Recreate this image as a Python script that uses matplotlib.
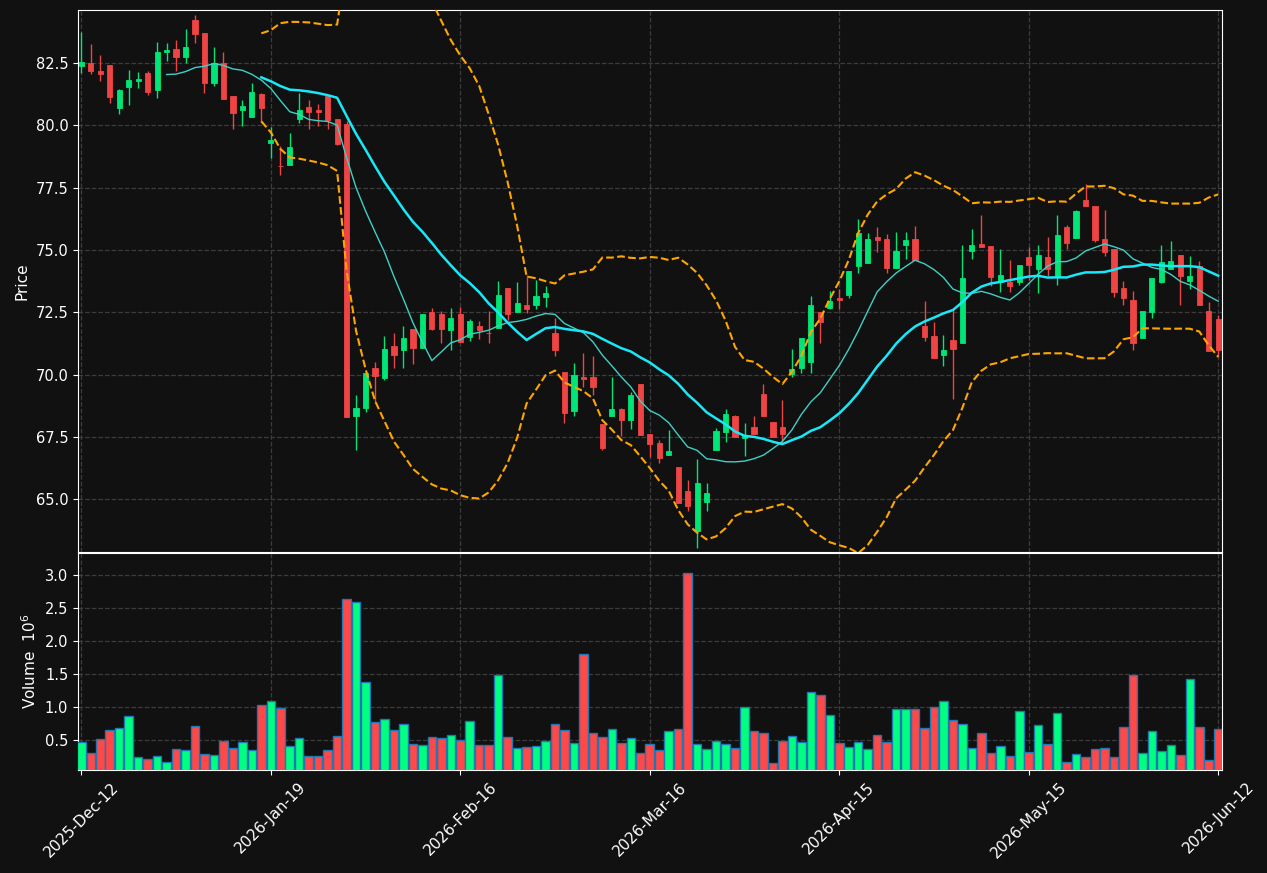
import numpy as np
import pandas as pd
import matplotlib
matplotlib.use('Agg')
import matplotlib.pyplot as plt

# daily OHLC (121 sessions)
opens = [82.40, 82.51, 82.19, 82.43, 80.70, 81.55, 81.79, 82.11, 81.43, 82.95,
         83.07, 82.75, 84.23, 83.71, 81.71, 82.51, 81.19, 80.60, 80.35, 81.26,
         79.28, 78.39, 78.43, 80.24, 80.74, 80.60, 81.20, 80.27, 80.07, 68.36,
         68.67, 70.27, 69.86, 71.16, 70.99, 71.83, 71.08, 72.51, 72.43, 71.78,
         72.43, 71.52, 71.96, 71.69, 71.89, 73.48, 72.50, 72.79, 72.78, 73.13,
         71.68, 70.10, 68.54, 69.92, 69.92, 68.04, 68.36, 68.62, 68.19, 69.64,
         67.63, 67.27, 66.78, 66.30, 65.33, 63.72, 64.90, 66.99, 67.72, 68.36,
         67.48, 67.90, 69.23, 68.11, 67.90, 70.03, 70.29, 70.52, 72.50, 72.68,
         73.06, 73.21, 74.38, 74.50, 75.53, 75.44, 74.30, 75.22, 75.44, 71.96,
         71.55, 70.80, 71.39, 71.29, 74.98, 75.25, 75.17, 73.70, 73.73, 73.70,
         74.72, 74.26, 74.72, 73.98, 75.93, 75.50, 77.01, 76.77, 75.44, 75.05,
         73.48, 72.99, 71.48, 72.53, 73.73, 74.24, 74.79, 73.77, 74.36, 72.54,
         72.24]
highs = [83.74, 83.27, 82.82, 82.43, 81.47, 82.21, 82.14, 82.18, 83.35, 83.29,
         83.42, 83.87, 84.44, 83.71, 83.14, 82.93, 81.19, 81.01, 81.69, 81.29,
         79.93, 79.17, 79.70, 81.30, 81.02, 80.87, 81.20, 80.27, 80.18, 69.17,
         70.07, 70.53, 71.55, 71.68, 71.94, 71.83, 72.43, 72.68, 72.54, 72.68,
         72.71, 72.24, 72.17, 72.54, 73.76, 73.48, 73.72, 74.01, 73.79, 73.55,
         72.26, 70.10, 70.47, 70.86, 70.76, 68.04, 69.92, 68.67, 69.31, 69.64,
         67.63, 67.38, 67.77, 66.30, 65.78, 66.64, 65.64, 67.86, 68.62, 68.40,
         68.06, 68.36, 69.64, 68.11, 68.99, 71.04, 71.47, 73.16, 72.50, 73.35,
         73.44, 74.16, 76.24, 75.68, 75.92, 75.64, 75.71, 75.71, 75.96, 72.95,
         72.10, 71.58, 72.60, 75.19, 75.85, 76.41, 75.17, 75.05, 74.61, 74.40,
         75.12, 75.19, 75.53, 76.39, 76.00, 76.61, 77.67, 76.77, 76.61, 75.05,
         73.76, 73.37, 72.54, 73.87, 75.19, 75.36, 74.79, 74.75, 74.57, 72.93,
         72.40]
lows = [82.10, 82.08, 81.80, 80.88, 80.44, 80.80, 81.52, 81.24, 81.12, 82.60,
        82.17, 82.49, 83.32, 81.29, 81.58, 81.05, 79.85, 79.96, 80.35, 80.14,
        78.68, 78.01, 78.43, 80.10, 79.85, 79.96, 79.86, 79.21, 68.32, 66.99,
        68.50, 68.92, 69.78, 70.28, 70.26, 70.45, 71.08, 71.79, 71.26, 71.01,
        71.33, 71.36, 71.43, 71.29, 71.89, 72.19, 72.50, 72.47, 72.65, 72.71,
        70.76, 68.08, 68.33, 69.52, 69.17, 66.99, 68.36, 67.55, 67.83, 67.59,
        66.69, 66.46, 66.78, 64.87, 64.55, 63.06, 64.52, 66.99, 67.31, 67.52,
        66.76, 67.63, 68.36, 67.49, 67.27, 69.92, 70.07, 70.07, 71.26, 72.65,
        72.65, 73.07, 74.10, 74.50, 74.91, 74.10, 74.30, 74.63, 74.62, 71.36,
        70.69, 70.37, 69.01, 71.29, 74.63, 75.12, 73.56, 73.31, 73.31, 73.59,
        73.80, 73.27, 73.98, 73.59, 75.03, 75.50, 76.77, 75.33, 74.77, 73.10,
        72.78, 71.01, 71.48, 72.26, 73.69, 74.24, 72.78, 73.45, 72.78, 70.97,
        70.73]
closes = [82.56, 82.17, 82.07, 81.16, 81.43, 81.83, 81.87, 81.34, 82.95, 83.03,
          82.75, 83.16, 83.67, 81.72, 82.51, 81.06, 80.48, 80.78, 81.34, 80.70,
          79.42, 78.36, 79.14, 80.62, 80.52, 80.52, 80.21, 79.26, 68.32, 68.67,
          70.07, 69.96, 71.04, 70.80, 71.47, 71.08, 72.43, 71.83, 71.83, 72.28,
          71.33, 72.15, 71.80, 71.66, 73.20, 72.43, 72.88, 72.65, 73.16, 73.28,
          71.01, 68.48, 69.99, 69.81, 69.50, 67.06, 68.62, 68.19, 69.17, 67.59,
          67.23, 66.66, 66.94, 64.87, 64.73, 65.67, 65.24, 67.76, 68.43, 67.52,
          67.54, 67.63, 68.36, 67.52, 67.63, 70.23, 71.47, 72.78, 72.10, 72.96,
          73.01, 74.16, 75.68, 75.44, 75.39, 74.30, 74.97, 75.40, 74.62, 71.52,
          70.69, 71.00, 71.05, 73.88, 75.21, 75.12, 73.94, 74.01, 73.56, 74.40,
          74.40, 74.80, 74.26, 75.61, 75.30, 76.56, 76.77, 75.40, 74.94, 73.31,
          73.06, 71.29, 72.54, 73.87, 74.51, 74.57, 73.98, 73.97, 72.78, 70.97,
          71.01]
# volume in millions
volumes = [0.465, 0.30, 0.515, 0.65, 0.68, 0.87, 0.24, 0.21, 0.26, 0.17,
           0.36, 0.35, 0.71, 0.29, 0.27, 0.485, 0.38, 0.465, 0.35, 1.025,
           1.09, 0.985, 0.41, 0.53, 0.26, 0.26, 0.35, 0.56, 2.636, 2.59,
           1.38, 0.77, 0.82, 0.65, 0.74, 0.44, 0.42, 0.545, 0.53, 0.575,
           0.50, 0.79, 0.42, 0.42, 1.485, 0.545, 0.38, 0.39, 0.41, 0.485,
           0.74, 0.65, 0.455, 1.80, 0.61, 0.545, 0.67, 0.455, 0.53, 0.30,
           0.44, 0.35, 0.64, 0.67, 3.03, 0.44, 0.36, 0.485, 0.44, 0.38,
           0.995, 0.64, 0.61, 0.15, 0.485, 0.56, 0.47, 1.23, 1.18, 0.88,
           0.455, 0.39, 0.47, 0.36, 0.575, 0.47, 0.97, 0.97, 0.97, 0.68,
           1.00, 1.09, 0.80, 0.74, 0.38, 0.61, 0.30, 0.41, 0.26, 0.94,
           0.32, 0.73, 0.44, 0.91, 0.17, 0.29, 0.24, 0.36, 0.38, 0.24,
           0.70, 1.485, 0.30, 0.64, 0.33, 0.42, 0.27, 1.42, 0.70, 0.20,
           0.67]
tick_labels = ['2025-Dec-12', '2026-Jan-19', '2026-Feb-16', '2026-Mar-16',
               '2026-Apr-15', '2026-May-15', '2026-Jun-12']

o = np.array(opens)
h = np.array(highs)
l = np.array(lows)
c = np.array(closes)
v = np.array(volumes)
x = np.arange(len(c))

# moving averages and bollinger bands from the closes
cs = pd.Series(c)
ma10 = cs.rolling(10).mean()
ma20 = cs.rolling(20).mean()
sd20 = cs.rolling(20).std(ddof=0)
upper = ma20 + 2 * sd20
lower = ma20 - 2 * sd20

bg = '#111111'
up_c, down_c = '#00e676', '#ef4444'
vup_c, vdown_c = '#00ff80', '#ff4848'

fig = plt.figure(figsize=(12.67, 8.73), dpi=100, facecolor=bg)
ax = fig.add_axes([78/1267, 1 - 552/873, 1144/1267, 542/873])
axv = fig.add_axes([78/1267, 1 - 770/873, 1144/1267, 217/873], sharex=ax)

for a in (ax, axv):
    a.set_facecolor(bg)
    for s in a.spines.values():
        s.set_color('white')
    a.tick_params(colors='white', labelsize=10.5)
    a.grid(True, color='#3c3c3c', linestyle='--', linewidth=0.9)
    a.set_axisbelow(True)

up = c >= o
colors = np.where(up, up_c, down_c)
ax.vlines(x, l, h, colors=colors, linewidth=1.0, zorder=2)
ax.bar(x, np.abs(c - o), bottom=np.minimum(o, c), width=0.55,
       color=colors, edgecolor=colors, linewidth=0.6, zorder=3)

ax.plot(x, ma10, color='#3fd0c6', linewidth=1.0, zorder=4)
ax.plot(x, ma20, color='#18e8f8', linewidth=1.8, zorder=4)
ax.plot(x, upper, color='#ffa500', linewidth=1.5, linestyle='--', zorder=4)
ax.plot(x, lower, color='#ffa500', linewidth=1.5, linestyle='--', zorder=4)

ax.set_ylim(62.89, 84.63)
ax.set_yticks(np.arange(65.0, 84.0, 2.5))
ax.yaxis.set_major_formatter(plt.FormatStrFormatter('%.1f'))
ax.set_ylabel('Price', color='white', fontsize=11)
ax.tick_params(axis='x', labelbottom=False, length=0)

vcol = np.where(up, vup_c, vdown_c)
axv.bar(x, v, width=0.9, color=vcol, edgecolor='#1f77b4', linewidth=1.0, zorder=3)
axv.set_ylim(0.3 * v.min(), 1.1 * v.max())
axv.set_yticks(np.arange(0.5, 3.01, 0.5))
axv.yaxis.set_major_formatter(plt.FormatStrFormatter('%.1f'))
axv.set_ylabel('Volume  $10^{6}$', color='white', fontsize=11)

ticks = np.linspace(0, len(c) - 1, len(tick_labels))
axv.set_xticks(ticks)
axv.set_xticklabels(tick_labels, rotation=45, ha='center', fontsize=11)
axv.set_xlim(-0.35, len(c) - 1 + 0.4)

fig.savefig('out.png', dpi=100, facecolor=bg)
